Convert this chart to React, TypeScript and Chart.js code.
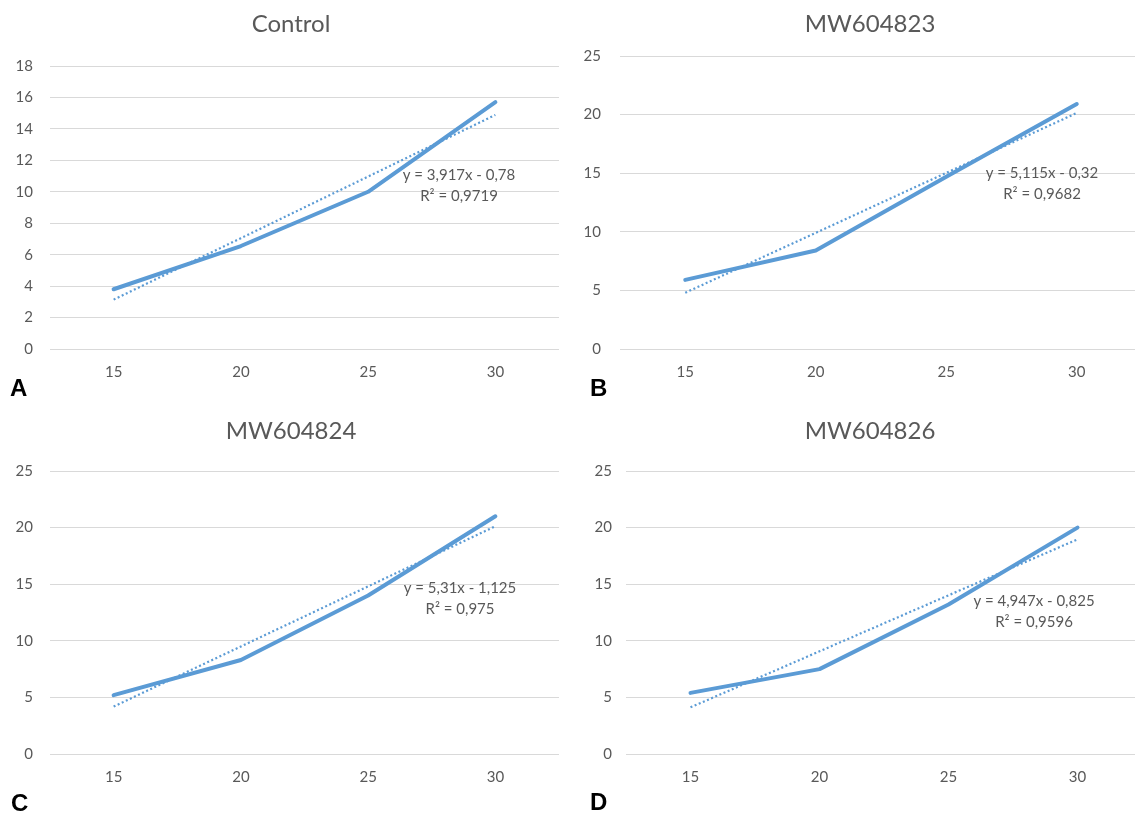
import React, { useEffect, useRef } from "react";
import { Chart, registerables } from "chart.js";

Chart.register(...registerables);

// ---------- data ----------
const categories = ["15", "20", "25", "30"];

const controlValues = [3.8, 6.55, 10.0, 15.7];
const controlTrend = [3.14, 7.05, 10.97, 14.89];

const mw604823Values = [5.9, 8.4, 14.7, 20.9];
const mw604823Trend = [4.8, 9.91, 15.03, 20.14];

const mw604824Values = [5.2, 8.3, 14.0, 21.0];
const mw604824Trend = [4.19, 9.5, 14.81, 20.12];

const mw604826Values = [5.4, 7.5, 13.2, 20.0];
const mw604826Trend = [4.12, 9.07, 14.02, 18.96];

const panelTitles = ["Control", "MW604823", "MW604824", "MW604826"];
const equationTexts = [
  "y = 3,917x - 0,78",
  "y = 5,115x - 0,32",
  "y = 5,31x - 1,125",
  "y = 4,947x - 0,825",
];
const rSquaredTexts = ["R² = 0,9719", "R² = 0,9682", "R² = 0,975", "R² = 0,9596"];
const panelLetters = ["A", "B", "C", "D"];
const yMaxima = [18, 25, 25, 25];
const yStepSizes = [2, 5, 5, 5];

const seriesValues = [controlValues, mw604823Values, mw604824Values, mw604826Values];
const trendValues = [controlTrend, mw604823Trend, mw604824Trend, mw604826Trend];

// ---------- layout (pixels) ----------
type PanelLayout = {
  left: number;
  top: number;
  width: number;
  height: number;
  areaLeft: number;
  areaRight: number;
  areaTop: number;
  areaBottom: number;
  yLabelGap: number;
  titleX: number;
  titleY: number;
  eqX: number;
  eqY: number;
  letterLeft: number;
  letterTop: number;
};

const layouts: PanelLayout[] = [
  { left: 0, top: 0, width: 567, height: 400, areaLeft: 50, areaRight: 559, areaTop: 66, areaBottom: 349, yLabelGap: 17, titleX: 291, titleY: 24, eqX: 459, eqY: 175, letterLeft: 10, letterTop: 376 },
  { left: 567, top: 0, width: 578, height: 400, areaLeft: 53, areaRight: 575, areaTop: 56, areaBottom: 349, yLabelGap: 19, titleX: 303, titleY: 24, eqX: 475, eqY: 173, letterLeft: 590, letterTop: 376 },
  { left: 0, top: 405, width: 567, height: 409, areaLeft: 50, areaRight: 559, areaTop: 66, areaBottom: 349, yLabelGap: 17, titleX: 291, titleY: 26, eqX: 460, eqY: 183, letterLeft: 11, letterTop: 791 },
  { left: 567, top: 405, width: 578, height: 409, areaLeft: 59, areaRight: 575, areaTop: 66, areaBottom: 349, yLabelGap: 14, titleX: 303, titleY: 26, eqX: 467, eqY: 196, letterLeft: 590, letterTop: 790 },
];

const BLUE = "#5B9BD5";
const TEXT = "#595959";
const GRID = "#D9D9D9";
const FONT = "Lato, 'Open Sans', sans-serif";

const panelTextPlugin = {
  id: "panelText",
  afterDraw(chart: any, _args: any, opts: any) {
    const ctx = chart.ctx as CanvasRenderingContext2D;
    ctx.save();
    ctx.fillStyle = TEXT;
    ctx.textAlign = "center";
    ctx.textBaseline = "middle";
    ctx.font = `24px ${FONT}`;
    ctx.fillText(opts.title, opts.titleX, opts.titleY);
    ctx.font = `15px ${FONT}`;
    ctx.fillText(opts.eq, opts.eqX, opts.eqY);
    ctx.fillText(opts.r2, opts.eqX, opts.eqY + 21);
    ctx.restore();
  },
};

function Panel({ index }: { index: number }) {
  const ref = useRef<HTMLCanvasElement | null>(null);
  const L = layouts[index];

  useEffect(() => {
    if (!ref.current) return;
    const chart = new Chart(ref.current, {
      type: "line",
      data: {
        labels: categories,
        datasets: [
          {
            label: "Linear trend",
            data: trendValues[index],
            borderColor: BLUE,
            borderWidth: 2.2,
            borderDash: [2, 2.5],
            pointRadius: 0,
            fill: false,
            tension: 0,
          },
          {
            label: panelTitles[index],
            data: seriesValues[index],
            borderColor: BLUE,
            borderWidth: 4,
            borderCapStyle: "round",
            borderJoinStyle: "round",
            pointRadius: 0,
            fill: false,
            tension: 0,
          },
        ],
      },
      options: {
        responsive: false,
        animation: false,
        layout: {
          padding: {
            left: 0,
            right: L.width - L.areaRight,
            top: L.areaTop,
            bottom: 0,
          },
        },
        plugins: {
          legend: { display: false },
          tooltip: { enabled: false },
          title: { display: false },
          panelText: {
            title: panelTitles[index],
            titleX: L.titleX,
            titleY: L.titleY,
            eq: equationTexts[index],
            r2: rSquaredTexts[index],
            eqX: L.eqX,
            eqY: L.eqY,
          },
        } as any,
        scales: {
          x: {
            type: "category",
            offset: true,
            grid: { display: false, drawTicks: false },
            border: { display: false },
            ticks: {
              color: TEXT,
              font: { family: FONT, size: 15 },
              padding: 14,
              maxRotation: 0,
            },
            afterFit(scale: any) {
              scale.height = L.height - L.areaBottom;
            },
          },
          y: {
            min: 0,
            max: yMaxima[index],
            ticks: {
              stepSize: yStepSizes[index],
              color: TEXT,
              font: { family: FONT, size: 15 },
              padding: L.yLabelGap,
            },
            grid: { color: GRID, lineWidth: 1, drawTicks: false },
            border: { display: false },
            afterFit(scale: any) {
              scale.width = L.areaLeft;
            },
          },
        },
      } as any,
      plugins: [panelTextPlugin],
    });
    const fonts = (document as any).fonts;
    let alive = true;
    if (fonts && fonts.load) {
      Promise.all([fonts.load(`15px Lato`), fonts.load(`24px Lato`)]).then(() => {
        if (alive) chart.update();
      });
    }
    return () => {
      alive = false;
      chart.destroy();
    };
  }, [index]);

  return (
    <>
      <canvas
        ref={ref}
        width={L.width}
        height={L.height}
        style={{ position: "absolute", left: L.left, top: L.top, width: L.width, height: L.height, display: "block" }}
      />
      <div
        style={{
          position: "absolute",
          left: L.letterLeft,
          top: L.letterTop,
          fontFamily: "'Liberation Sans', Arial, sans-serif",
          fontWeight: "bold",
          fontSize: 24,
          lineHeight: "24px",
          color: "#000",
        }}
      >
        {panelLetters[index]}
      </div>
    </>
  );
}

export default function App() {
  return (
    <div
      style={{
        position: "absolute",
        left: 0,
        top: 0,
        width: 1135,
        height: 814,
        overflow: "hidden",
        background: "#fff",
      }}
    >
      {[0, 1, 2, 3].map((i) => (
        <Panel key={i} index={i} />
      ))}
    </div>
  );
}
